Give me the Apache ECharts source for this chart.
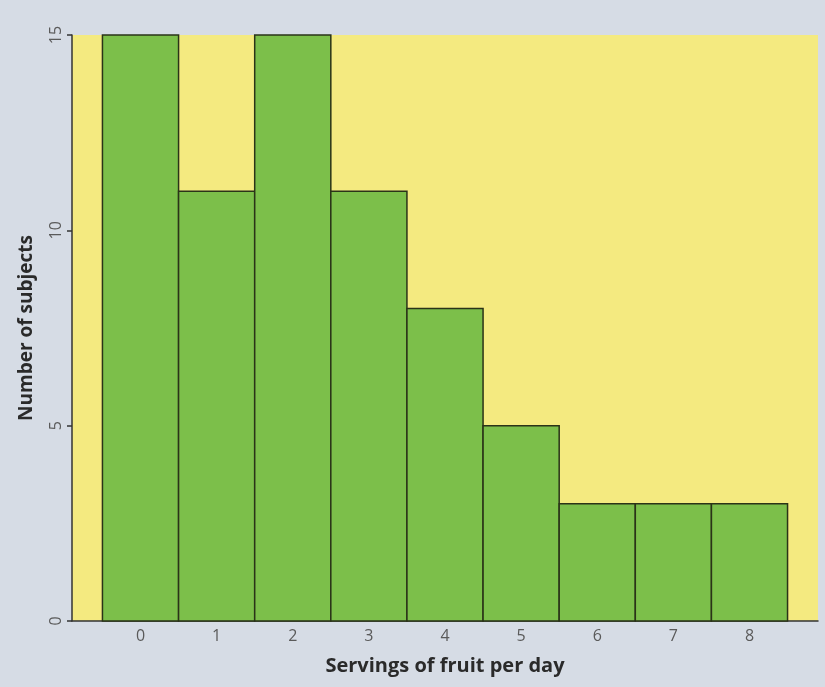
<!DOCTYPE html>
<html>
<head>
<meta charset="utf-8">
<script src="https://cdn.jsdelivr.net/npm/echarts@6/dist/echarts.min.js"></script>
<style>
html,body{margin:0;padding:0;background:#d6dce5;}
#c{width:825px;height:687px;}
</style>
</head>
<body>
<div id="c"></div>
<script>
// Data
var servings = [0, 1, 2, 3, 4, 5, 6, 7, 8];
var subjects = [15, 11, 15, 11, 8, 5, 3, 3, 3];
var yTicks = [0, 5, 10, 15];
var xTitle = 'Servings of fruit per day';
var yTitle = 'Number of subjects';

var chart = echarts.init(document.getElementById('c'));
var seriesData = servings.map(function (s, i) { return [s, subjects[i]]; });

chart.setOption({
  backgroundColor: '#d6dce5',
  animation: false,
  grid: {
    left: 72, right: 7, top: 35, bottom: 66,
    show: true, backgroundColor: '#f4ea80', borderWidth: 0
  },
  xAxis: {
    type: 'value',
    min: -0.9, max: 8.9,
    interval: 0.1,
    name: xTitle,
    nameLocation: 'middle',
    nameGap: 35,
    nameTextStyle: { fontFamily: 'Open Sans', fontWeight: 'bold', fontSize: 20, color: '#2a2a2a' },
    axisLine: { show: true, onZero: false, lineStyle: { color: '#333', width: 1.5 } },
    axisTick: { show: false },
    splitLine: { show: false },
    axisLabel: {
      fontFamily: 'Open Sans', fontSize: 16, color: '#5a5a5a', margin: 7,
      showMinLabel: false, showMaxLabel: false,
      formatter: function (v) {
        var r = Math.round(v);
        return (Math.abs(v - r) < 1e-4 && servings.indexOf(r) >= 0) ? String(r) : '';
      }
    }
  },
  yAxis: {
    type: 'value',
    min: 0, max: 15, interval: 5,
    name: yTitle,
    nameLocation: 'middle',
    nameGap: 36,
    nameRotate: 90,
    nameTextStyle: { fontFamily: 'Open Sans', fontWeight: 'bold', fontSize: 19, color: '#2a2a2a' },
    axisLine: { show: true, onZero: false, lineStyle: { color: '#333', width: 1.5 } },
    axisTick: { show: true, length: 5, lineStyle: { color: '#333', width: 1.5 } },
    splitLine: { show: false },
    axisLabel: {
      rotate: 90, fontFamily: 'Open Sans', fontSize: 16, color: '#5a5a5a', margin: 8,
      formatter: function (v) { return yTicks.indexOf(v) >= 0 ? String(v) : ''; }
    }
  },
  series: [{
    type: 'custom',
    data: seriesData,
    renderItem: function (params, api) {
      var x = api.value(0), y = api.value(1);
      var p0 = api.coord([x - 0.5, y]);
      var p1 = api.coord([x + 0.5, 0]);
      return {
        type: 'rect',
        shape: { x: p0[0], y: p0[1], width: p1[0] - p0[0], height: p1[1] - p0[1] },
        style: { fill: '#7cbf4a', stroke: '#2a3318', lineWidth: 1.5 }
      };
    }
  }]
});
</script>
</body>
</html>
